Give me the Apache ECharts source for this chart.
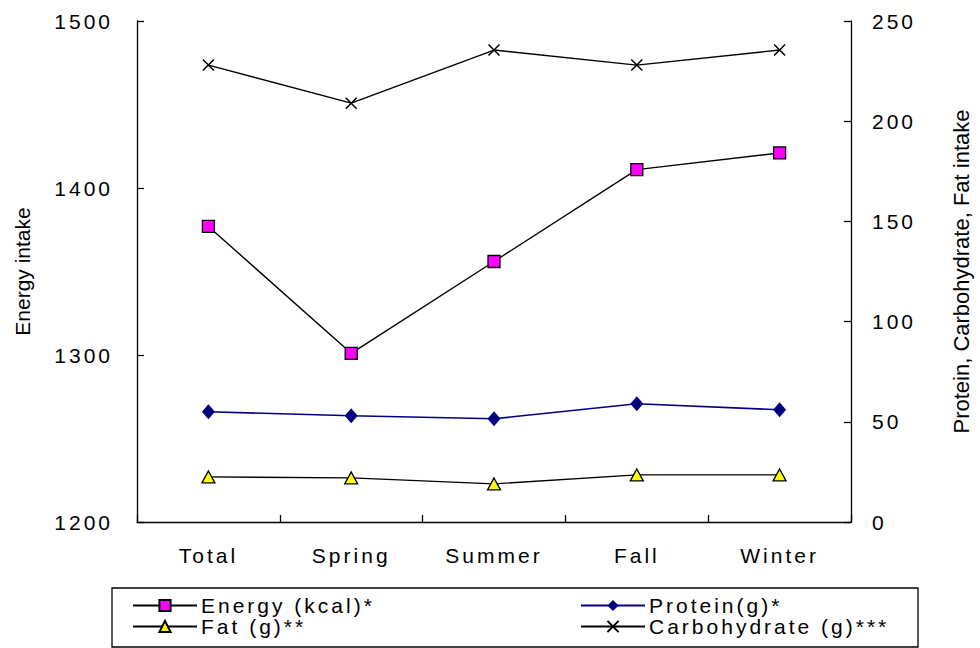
<!DOCTYPE html>
<html>
<head>
<meta charset="utf-8">
<script src="https://cdn.jsdelivr.net/npm/echarts@6/dist/echarts.min.js"></script>
<style>
  html, body { margin: 0; padding: 0; background: #ffffff; }
  #main { width: 980px; height: 648px; }
  /* Tick, category and legend labels are set with widened letter spacing */
  #main text { letter-spacing: 3px; }
  #main text[style*="Liberation"], #main text[font-family*="Liberation"] { letter-spacing: 0; }
</style>
</head>
<body>
<div id="main"></div>
<script>
// Seasonal intake values
const categories = ['Total', 'Spring', 'Summer', 'Fall', 'Winter'];
const energy = [1377, 1301, 1356, 1411, 1421];
const protein = [55, 53, 51.5, 59, 56];
const fat = [22.5, 22, 19, 23.5, 23.5];
const carbohydrate = [228, 209, 235.5, 228, 235.5];

const energyTicks = { min: 1200, max: 1500, interval: 100 };
const nutrientTicks = { min: 0, max: 250, interval: 50 };

const labelFont = 'Arial';
const titleFont = 'Liberation Sans';

const chart = echarts.init(document.getElementById('main'), null, { renderer: 'svg' });

const axisLine = { show: true, lineStyle: { color: '#000', width: 1.3 } };
const axisTick = { show: true, inside: true, length: 7, lineStyle: { color: '#000', width: 1.3 } };
const plainNumber = (v) => String(v);

chart.setOption({
  backgroundColor: '#ffffff',
  animation: false,
  grid: { left: 137, right: 121, top: 21, bottom: 126 },
  xAxis: {
    type: 'category',
    data: categories,
    boundaryGap: true,
    axisLine: axisLine,
    axisTick: axisTick,
    axisLabel: { color: '#000', fontFamily: labelFont, fontSize: 21, margin: 23 },
    splitLine: { show: false }
  },
  yAxis: [
    {
      type: 'value',
      position: 'left',
      min: energyTicks.min, max: energyTicks.max, interval: energyTicks.interval,
      name: 'Energy intake',
      nameLocation: 'middle',
      nameGap: 104,
      nameRotate: 90,
      nameTextStyle: { color: '#000', fontFamily: titleFont, fontSize: 21 },
      axisLine: axisLine,
      axisTick: axisTick,
      axisLabel: { color: '#000', fontFamily: labelFont, fontSize: 21, margin: 24, formatter: plainNumber },
      splitLine: { show: false }
    },
    {
      type: 'value',
      position: 'right',
      min: nutrientTicks.min, max: nutrientTicks.max, interval: nutrientTicks.interval,
      name: 'Protein, Carbohydrate, Fat intake',
      nameLocation: 'middle',
      nameGap: 99,
      nameRotate: 90,
      nameTextStyle: { color: '#000', fontFamily: titleFont, fontSize: 22 },
      axisLine: axisLine,
      axisTick: axisTick,
      axisLabel: { color: '#000', fontFamily: labelFont, fontSize: 21, margin: 21, formatter: plainNumber },
      splitLine: { show: false }
    }
  ],
  legend: [
    {
      left: 127, top: 590, orient: 'vertical',
      itemWidth: 64, itemHeight: 14, itemGap: 0,
      textStyle: { color: '#000', fontFamily: labelFont, fontSize: 21, padding: [0, 0, 0, -1] },
      data: ['Energy (kcal)*', 'Fat (g)**']
    },
    {
      left: 575, top: 590, orient: 'vertical',
      itemWidth: 64, itemHeight: 14, itemGap: 0,
      textStyle: { color: '#000', fontFamily: labelFont, fontSize: 21, padding: [0, 0, 0, -1] },
      data: ['Protein(g)*', 'Carbohydrate (g)***']
    }
  ],
  graphic: [
    {
      type: 'rect', z: -1, silent: true,
      shape: { x: 112, y: 588, width: 806, height: 59 },
      style: { fill: 'none', stroke: '#000', lineWidth: 1.3 }
    }
  ],
  series: [
    {
      name: 'Energy (kcal)*', type: 'line', yAxisIndex: 0, data: energy,
      symbol: 'rect', symbolSize: 12,
      itemStyle: { color: '#ff00ff', borderColor: '#000', borderWidth: 1.3 },
      lineStyle: { color: '#000', width: 1.4 }
    },
    {
      name: 'Protein(g)*', type: 'line', yAxisIndex: 1, data: protein,
      symbol: 'diamond', symbolSize: [13, 15],
      itemStyle: { color: '#000080', borderColor: '#000080', borderWidth: 0 },
      lineStyle: { color: '#000080', width: 1.6 }
    },
    {
      name: 'Fat (g)**', type: 'line', yAxisIndex: 1, data: fat,
      symbol: 'triangle', symbolSize: [13, 12],
      itemStyle: { color: '#ffff00', borderColor: '#000', borderWidth: 1.3 },
      lineStyle: { color: '#000', width: 1.4 }
    },
    {
      name: 'Carbohydrate (g)***', type: 'line', yAxisIndex: 1, data: carbohydrate,
      symbol: 'path://M0,0L10,10M10,0L0,10', symbolSize: 11,
      itemStyle: { color: 'none', borderColor: '#000', borderWidth: 1.5 },
      lineStyle: { color: '#000', width: 1.4 }
    }
  ]
});
</script>
</body>
</html>
